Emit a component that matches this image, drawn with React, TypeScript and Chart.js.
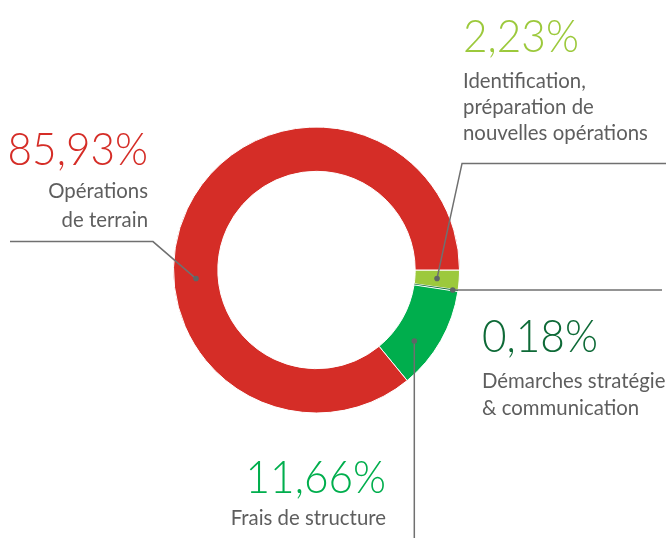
import React, { useEffect, useRef } from "react";
import { Chart, registerables } from "chart.js";

Chart.register(...registerables);

// ---- data ----
const categories = [
  "Identification, préparation de nouvelles opérations",
  "Démarches stratégie & communication",
  "Frais de structure",
  "Opérations de terrain",
];
const values = [2.23, 0.18, 11.66, 85.93];
const percentLabels = ["2,23%", "0,18%", "11,66%", "85,93%"];
const captionLines = [
  ["Identification,", "préparation de", "nouvelles opérations"],
  ["Démarches stratégie", "& communication"],
  ["Frais de structure"],
  ["Opérations", "de terrain"],
];
const colors = ["#9CC93C", "#0E6A37", "#00AE4D", "#D52D27"];

// ---- callout layout (text placement & leader line shape) ----
type Seg = { dx?: number; dy?: number; toX?: number; toY?: number };
const callouts = [
  { align: "left", x: 463, pctBase: 52, capBase: [88, 114, 140], frac: 0.5, rfrac: 0.5, path: [{ dx: 25, dy: -115 }, { toX: 666 }] as Seg[] },
  { align: "left", x: 482, pctBase: 352, capBase: [388, 415], frac: 0.5, rfrac: 0.88, path: [{ toX: 662 }] as Seg[] },
  { align: "right", x: 386, pctBase: 493, capBase: [525], frac: 0.65, rfrac: 0.5, path: [{ toY: 538 }] as Seg[] },
  { align: "right", x: 148, pctBase: 165, capBase: [198, 227], frac: 0.405, rfrac: 0.5, path: [{ dx: -43, dy: -37 }, { toX: 10 }] as Seg[] },
];

const PCT_FONT = "300 46px Lato";
const PCT_SCALE = 0.92;
const CAP_FONT = "400 21px Lato";
const CAP_SCALE = 0.97;
const CAP_COLOR = "#5E5E5E";
const LINE_COLOR = "#707070";

function drawText(ctx: CanvasRenderingContext2D, text: string, x: number, y: number, font: string, sx: number, color: string, align: string) {
  ctx.save();
  ctx.font = font;
  ctx.fillStyle = color;
  ctx.textAlign = align as CanvasTextAlign;
  ctx.textBaseline = "alphabetic";
  ctx.translate(x, y);
  ctx.scale(sx, 1);
  ctx.fillText(text, 0, 0);
  ctx.restore();
}

const calloutPlugin = {
  id: "callouts",
  afterDatasetsDraw(chart: any) {
    const ctx: CanvasRenderingContext2D = chart.ctx;
    const meta = chart.getDatasetMeta(0);
    meta.data.forEach((arc: any, i: number) => {
      const c = callouts[i];
      const p = arc.getProps(["x", "y", "startAngle", "endAngle", "innerRadius", "outerRadius"], true);
      const ang = p.startAngle + c.frac * (p.endAngle - p.startAngle);
      const r = p.innerRadius + c.rfrac * (p.outerRadius - p.innerRadius);
      const dot = { x: p.x + Math.cos(ang) * r, y: p.y + Math.sin(ang) * r };
      ctx.save();
      ctx.strokeStyle = LINE_COLOR;
      ctx.lineWidth = 1.5;
      ctx.beginPath();
      ctx.moveTo(dot.x, dot.y);
      let cx = dot.x, cy = dot.y;
      c.path.forEach((s) => {
        if (s.toX !== undefined) cx = s.toX;
        else if (s.toY !== undefined) cy = s.toY;
        else { cx += s.dx || 0; cy += s.dy || 0; }
        ctx.lineTo(cx, cy);
      });
      ctx.stroke();
      ctx.fillStyle = "#5E6666";
      ctx.beginPath();
      ctx.arc(dot.x, dot.y, 2.8, 0, Math.PI * 2);
      ctx.fill();
      ctx.restore();

      drawText(ctx, percentLabels[i], c.x, c.pctBase, PCT_FONT, PCT_SCALE, colors[i], c.align);
      captionLines[i].forEach((line, j) => {
        drawText(ctx, line, c.x, c.capBase[j], CAP_FONT, CAP_SCALE, CAP_COLOR, c.align);
      });
    });
  },
};

export default function App() {
  const ref = useRef<HTMLCanvasElement>(null);
  useEffect(() => {
    if (!ref.current) return;
    const chart = new Chart(ref.current, {
      type: "doughnut",
      data: {
        labels: categories,
        datasets: [
          {
            data: values,
            backgroundColor: colors,
            borderColor: "#ffffff",
            borderWidth: [1, 0, 1, 1],
          },
        ],
      },
      options: {
        animation: false,
        responsive: true,
        maintainAspectRatio: false,
        rotation: 90,
        cutout: "69%",
        layout: { padding: { left: 173, right: 206, top: 126.5, bottom: 124.5 } },
        plugins: { legend: { display: false }, tooltip: { enabled: false } },
      },
      plugins: [calloutPlugin],
    });
    return () => chart.destroy();
  }, []);
  return (
    <div style={{ position: "fixed", left: 0, top: 0, width: 666, height: 538, background: "#fff" }}>
      <canvas ref={ref} />
    </div>
  );
}
